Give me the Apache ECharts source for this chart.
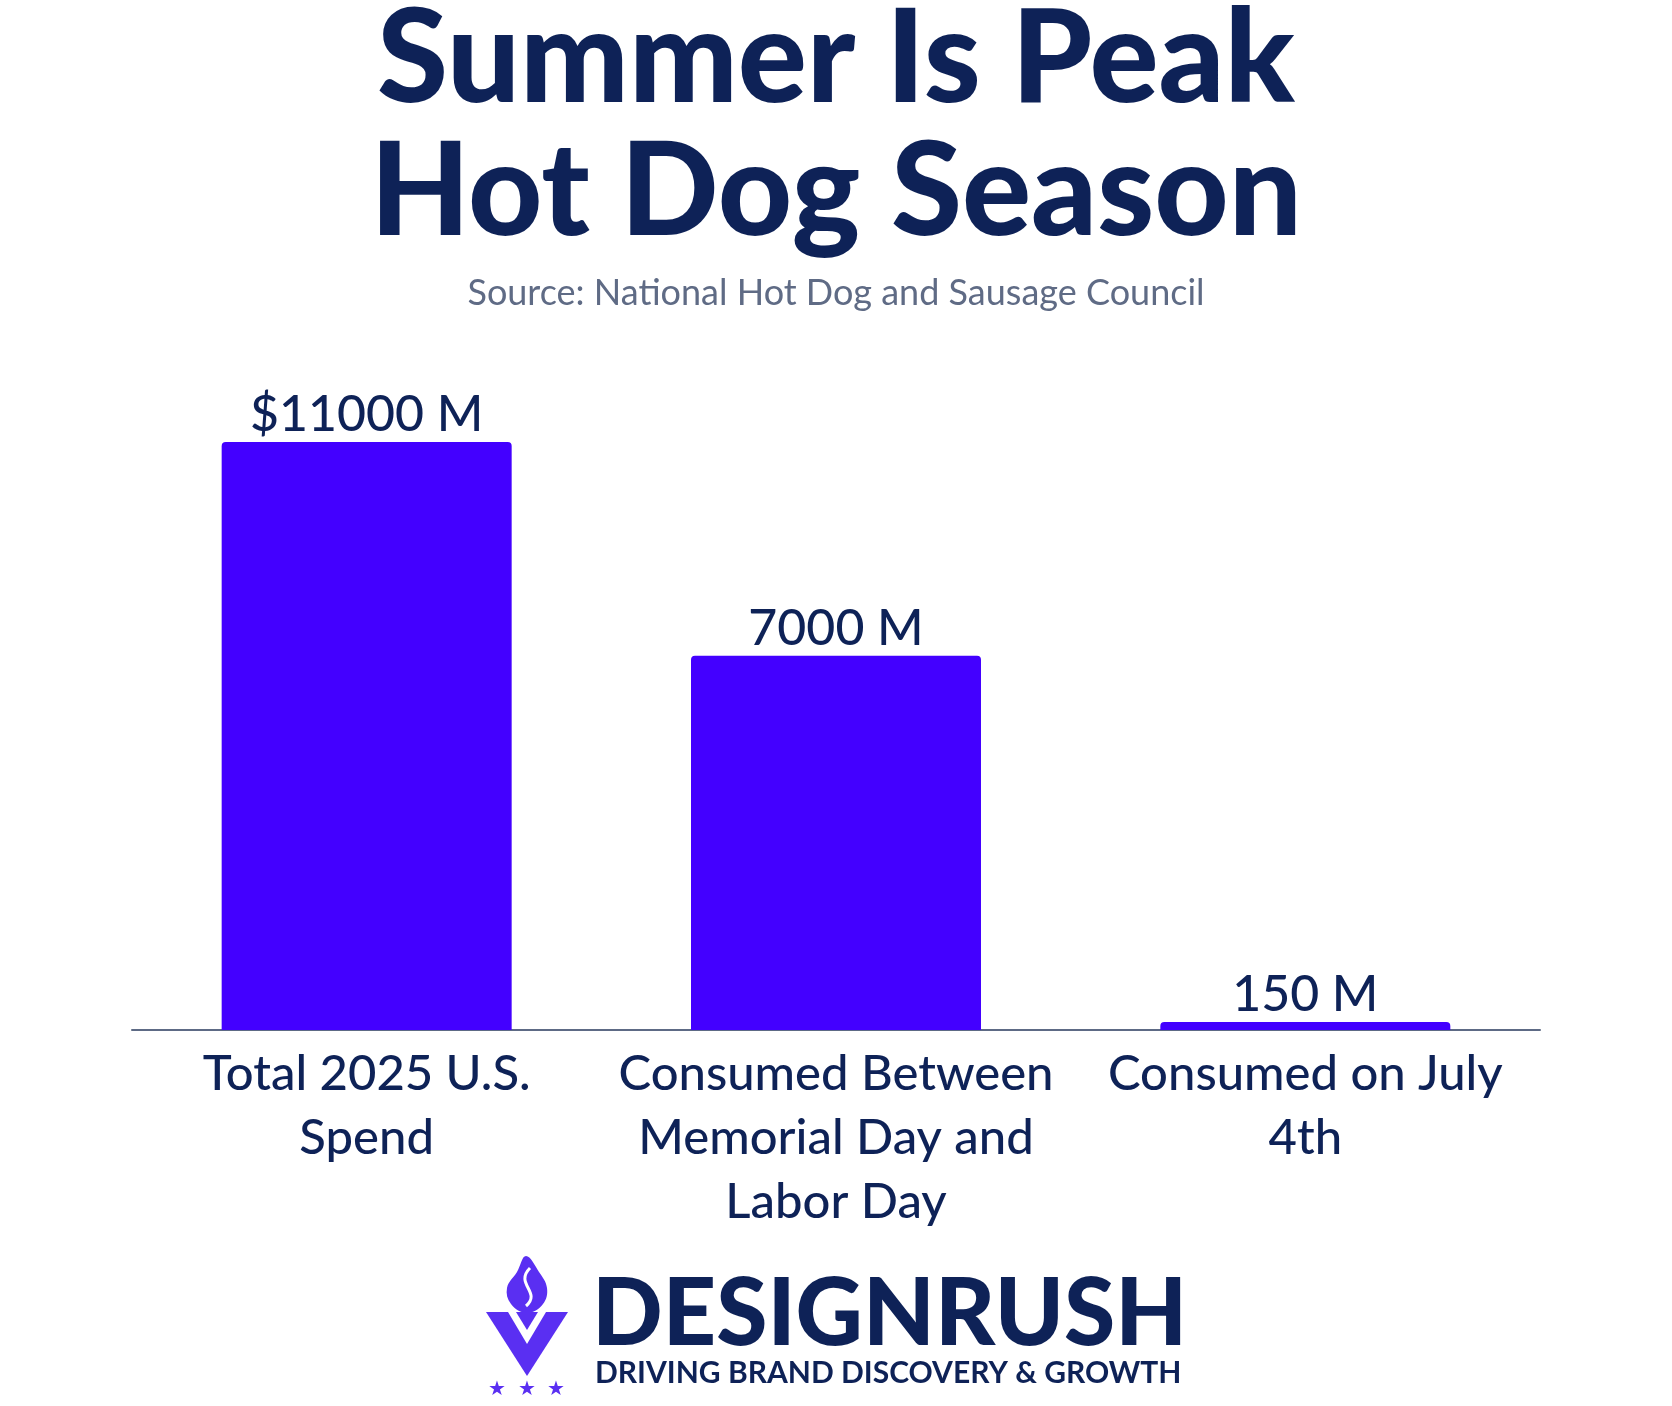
<!DOCTYPE html>
<html>
<head>
<meta charset="utf-8">
<title>Summer Is Peak Hot Dog Season</title>
<script src="https://cdn.jsdelivr.net/npm/echarts@6/dist/echarts.min.js"></script>
<style>
  html, body { margin: 0; padding: 0; background: #ffffff; }
  #chart { width: 1672px; height: 1406px; }
</style>
</head>
<body>
<div id="chart"></div>
<script>
// Data
const categories = [
  'Total 2025 U.S.\nSpend',
  'Consumed Between\nMemorial Day and\nLabor Day',
  'Consumed on July\n4th'
];
const values = [11000, 7000, 150];
const labelPrefixes = ['$', '', ''];
const labelSuffix = ' M';

const NAVY = '#0e2257';
const BAR = '#4300ff';
const PURPLE = '#5a2ff2';
const FONT = 'Lato, "Noto Sans", sans-serif';

const chart = echarts.init(document.getElementById('chart'));

// small star marks under the logo
const stars = [-30, 0, 29].map(dx => ({
  type: 'text',
  x: 41 + dx,
  y: 124,
  style: {
    text: '★',
    fontFamily: '"DejaVu Sans", sans-serif',
    fontSize: 20,
    fill: PURPLE,
    align: 'center'
  }
}));

chart.setOption({
  backgroundColor: '#ffffff',
  textStyle: { fontFamily: FONT },
  title: [
    {
      text: 'Summer Is Peak\nHot Dog Season',
      left: 'center',
      top: -11,
      textStyle: {
        fontFamily: FONT,
        fontSize: 129,
        fontWeight: 900,
        color: NAVY,
        lineHeight: 133
      }
    },
    {
      text: 'Source: National Hot Dog and Sausage Council',
      left: 'center',
      top: 270,
      textStyle: {
        fontFamily: FONT,
        fontSize: 36,
        fontWeight: 'normal',
        color: '#5f6b85'
      }
    }
  ],
  grid: { left: 132, right: 132, top: 442, bottom: 376, containLabel: false },
  xAxis: {
    type: 'category',
    data: categories,
    axisLine: { show: true, lineStyle: { color: '#5d6a85', width: 2 } },
    axisTick: { show: false },
    axisLabel: {
      interval: 0,
      margin: 12,
      fontFamily: FONT,
      fontSize: 49,
      fontWeight: 500,
      lineHeight: 64,
      color: NAVY
    }
  },
  yAxis: {
    type: 'value',
    min: 0,
    max: 11000,
    show: false,
    splitLine: { show: false }
  },
  series: [{
    type: 'bar',
    data: values,
    barWidth: 290,
    itemStyle: { color: BAR, borderRadius: [4, 4, 0, 0] },
    label: {
      show: true,
      position: 'top',
      distance: 2,
      fontFamily: FONT,
      fontSize: 50,
      fontWeight: 500,
      color: NAVY,
      formatter: p => labelPrefixes[p.dataIndex] + p.value + labelSuffix
    }
  }],
  graphic: [
    // DesignRush logo, decoration only
    {
      type: 'group',
      left: 486,
      top: 1256,
      children: [
        {
          type: 'polygon',
          shape: {
            points: [[40, 0], [53, 16], [61, 32], [57, 48], [41, 57], [25, 48], [21, 32], [31, 16]],
            smooth: 0.4
          },
          style: { fill: PURPLE }
        },
        {
          type: 'bezierCurve',
          shape: { x1: 44, y1: 12, x2: 40, y2: 50, cpx1: 28, cpy1: 28, cpx2: 56, cpy2: 36 },
          style: { fill: null, stroke: '#ffffff', lineWidth: 3 }
        },
        {
          type: 'polygon',
          shape: { points: [[0, 56], [82, 56], [41, 120]] },
          style: { fill: PURPLE }
        },
        {
          type: 'polygon',
          shape: { points: [[22, 56], [60, 56], [41, 88]] },
          style: { fill: '#ffffff' }
        },
        {
          type: 'polygon',
          shape: { points: [[30, 56], [52, 56], [41, 74]] },
          style: { fill: PURPLE }
        }
      ].concat(stars)
    },
    {
      type: 'text',
      left: 592,
      top: 1268,
      style: {
        text: 'DESIGNRUSH',
        fontFamily: FONT,
        fontSize: 93,
        fontWeight: 900,
        fill: NAVY
      }
    },
    {
      type: 'text',
      left: 595,
      top: 1358,
      style: {
        text: 'DRIVING BRAND DISCOVERY & GROWTH',
        fontFamily: FONT,
        fontSize: 30,
        fontWeight: 'bold',
        fill: NAVY
      }
    }
  ]
});
</script>
</body>
</html>
